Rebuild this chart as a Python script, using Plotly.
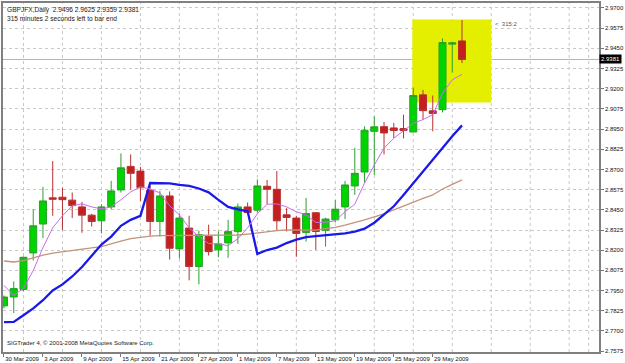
import plotly.graph_objects as go

# ---------------- data ----------------
dates = ["2009-03-30", "2009-03-31", "2009-04-01", "2009-04-02", "2009-04-03",
         "2009-04-06", "2009-04-07", "2009-04-08", "2009-04-09", "2009-04-10",
         "2009-04-13", "2009-04-14", "2009-04-15", "2009-04-16", "2009-04-17",
         "2009-04-20", "2009-04-21", "2009-04-22", "2009-04-23", "2009-04-24",
         "2009-04-27", "2009-04-28", "2009-04-29", "2009-04-30", "2009-05-01",
         "2009-05-04", "2009-05-05", "2009-05-06", "2009-05-07", "2009-05-08",
         "2009-05-11", "2009-05-12", "2009-05-13", "2009-05-14", "2009-05-15",
         "2009-05-18", "2009-05-19", "2009-05-20", "2009-05-21", "2009-05-22",
         "2009-05-25", "2009-05-26", "2009-05-27", "2009-05-28", "2009-05-29",
         "2009-06-01", "2009-06-02", "2009-06-03"]

open_ = [2.7855, 2.7910, 2.7957, 2.8183, 2.8362, 2.8524, 2.8528, 2.8510, 2.8468, 2.8417,
         2.8382, 2.8468, 2.8573, 2.8719, 2.8690, 2.8571, 2.8378, 2.8536, 2.8208, 2.8337,
         2.8099, 2.8286, 2.8202, 2.8245, 2.8315, 2.8468, 2.8448, 2.8596, 2.8577, 2.8419,
         2.8399, 2.8310, 2.8432, 2.8323, 2.8388, 2.8468, 2.8598, 2.8684, 2.8936, 2.8965,
         2.8957, 2.8953, 2.8932, 2.9162, 2.9063, 2.9070, 2.9476, 2.9496]
high = [2.7920, 2.8007, 2.8161, 2.8454, 2.8592, 2.8752, 2.8587, 2.8557, 2.8499, 2.8425,
        2.8485, 2.8629, 2.8799, 2.8793, 2.8715, 2.8598, 2.8567, 2.8564, 2.8425, 2.8413,
        2.8321, 2.8358, 2.8316, 2.8388, 2.8489, 2.8495, 2.8639, 2.8635, 2.8690, 2.8460,
        2.8413, 2.8524, 2.8433, 2.8401, 2.8510, 2.8629, 2.8834, 2.8967, 2.9029, 2.8994,
        2.8988, 2.9039, 2.9207, 2.9193, 2.9158, 2.9511, 2.9491, 2.9625]
low = [2.7840, 2.7811, 2.7947, 2.8136, 2.8276, 2.8413, 2.8325, 2.8399, 2.8308, 2.8347,
       2.8304, 2.8454, 2.8557, 2.8577, 2.8505, 2.8290, 2.8284, 2.8142, 2.8148, 2.8013,
       2.7988, 2.8167, 2.8156, 2.8153, 2.8239, 2.8424, 2.8433, 2.8485, 2.8321, 2.8316,
       2.8159, 2.8253, 2.8202, 2.8222, 2.8372, 2.8393, 2.8542, 2.8618, 2.8666, 2.8793,
       2.8895, 2.8892, 2.8930, 2.9009, 2.8936, 2.9053, 2.9300, 2.9359]
close = [2.7910, 2.7962, 2.8156, 2.8351, 2.8505, 2.8516, 2.8513, 2.8476, 2.8417, 2.8378,
         2.8468, 2.8567, 2.8710, 2.8676, 2.8587, 2.8378, 2.8536, 2.8212, 2.8399, 2.8099,
         2.8296, 2.8191, 2.8239, 2.8315, 2.8468, 2.8433, 2.8598, 2.8577, 2.8382, 2.8403,
         2.8304, 2.8427, 2.8316, 2.8393, 2.8454, 2.8604, 2.8676, 2.8943, 2.8964, 2.8926,
         2.8941, 2.8941, 2.9158, 2.9064, 2.9047, 2.9486, 2.9484, 2.9381]

ma_fast = [2.7982, 2.7920, 2.7964, 2.8074, 2.8216, 2.8339, 2.8413, 2.8475, 2.8487, 2.8468,
           2.8456, 2.8468, 2.8512, 2.8561, 2.8592, 2.8579, 2.8555, 2.8475, 2.8419, 2.8339,
           2.8284, 2.8241, 2.8239, 2.8228, 2.8271, 2.8339, 2.8425, 2.8484, 2.8487, 2.8468,
           2.8438, 2.8419, 2.8372, 2.8373, 2.8382, 2.8438, 2.8485, 2.8616, 2.8727, 2.8832,
           2.8893, 2.8941, 2.8986, 2.9009, 2.9039, 2.9172, 2.9255, 2.9289]
ma_slow = [2.8133, 2.8127, 2.8136, 2.8154, 2.8170, 2.8182, 2.8191, 2.8198, 2.8208, 2.8214,
           2.8222, 2.8241, 2.8256, 2.8271, 2.8279, 2.8287, 2.8290, 2.8290, 2.8290, 2.8290,
           2.8290, 2.8290, 2.8290, 2.8290, 2.8294, 2.8300, 2.8308, 2.8315, 2.8321, 2.8325,
           2.8324, 2.8321, 2.8324, 2.8333, 2.8341, 2.8355, 2.8370, 2.8388, 2.8407, 2.8425,
           2.8450, 2.8475, 2.8499, 2.8521, 2.8542, 2.8579, 2.8608, 2.8635]
ma_blue = [2.7754, 2.7756, 2.7797, 2.7840, 2.7890, 2.7951, 2.7988, 2.8037, 2.8096, 2.8167,
           2.8235, 2.8284, 2.8351, 2.8388, 2.8413, 2.8616, 2.8616, 2.8614, 2.8604, 2.8598,
           2.8582, 2.8558, 2.8512, 2.8468, 2.8453, 2.8441, 2.8177, 2.8201, 2.8216, 2.8244,
           2.8265, 2.8281, 2.8287, 2.8293, 2.8296, 2.8304, 2.8315, 2.8333, 2.8370, 2.8419,
           2.8472, 2.8542, 2.8616, 2.8690, 2.8764, 2.8832, 2.8906, 2.8973]

tick_dates = ["2009-03-30", "2009-04-03", "2009-04-09", "2009-04-15", "2009-04-21",
              "2009-04-27", "2009-05-01", "2009-05-07", "2009-05-13", "2009-05-19",
              "2009-05-25", "2009-05-29"]
tick_labels = ["30 Mar 2009", "3 Apr 2009", "9 Apr 2009", "15 Apr 2009", "21 Apr 2009",
               "27 Apr 2009", "1 May 2009", "7 May 2009", "13 May 2009", "19 May 2009",
               "25 May 2009", "29 May 2009"]
price_ticks = [2.7575, 2.7700, 2.7825, 2.7950, 2.8075, 2.8200, 2.8325, 2.8450, 2.8575,
               2.8700, 2.8825, 2.8950, 2.9075, 2.9200, 2.9325, 2.9450, 2.9575, 2.9700]
price_tick_text = ["%.4f" % v for v in price_ticks]

highlight_bars = (41.9, 50.0)
highlight_prices = (2.9115, 2.9628)
timer_text = "<  315:2"
header_line1 = "GBPJFX,Daily  2.9496 2.9625 2.9359 2.9381"
header_line2 = "315 minutes 2 seconds left to bar end"
footer_text = "SIGTrader 4, © 2001-2008 MetaQuotes Software Corp."

# ---------------- figure ----------------
x = list(range(len(dates)))
tick_x = [dates.index(d) for d in tick_dates]
grid_x = list(range(2, 59, 4)) + [60]

FONT = "Liberation Sans, Arial, sans-serif"
FS = 6

fig = go.Figure()

fig.add_trace(go.Candlestick(
    x=x, open=open_, high=high, low=low, close=close,
    increasing=dict(fillcolor="#00D400", line=dict(color="#2AA02A", width=1)),
    decreasing=dict(fillcolor="#C41F1F", line=dict(color="#B83030", width=1)),
    hoverinfo="skip", showlegend=False,
))
fig.add_trace(go.Scatter(x=x, y=ma_slow, mode="lines",
                         line=dict(color="rgb(196,146,120)", width=1.3),
                         hoverinfo="skip", showlegend=False))
fig.add_trace(go.Scatter(x=x, y=ma_blue, mode="lines",
                         line=dict(color="rgb(25,25,235)", width=2.3),
                         hoverinfo="skip", showlegend=False))
fig.add_trace(go.Scatter(x=x, y=ma_fast, mode="lines",
                         line=dict(color="rgb(200,110,235)", width=1),
                         hoverinfo="skip", showlegend=False))

shapes = []
for g in grid_x:
    shapes.append(dict(type="line", xref="x", yref="paper", x0=g, x1=g, y0=0, y1=1,
                       line=dict(color="#C8C8C8", width=1, dash="dot"), layer="below"))
shapes.append(dict(type="rect", xref="x", yref="y",
                   x0=highlight_bars[0], x1=highlight_bars[1],
                   y0=highlight_prices[0], y1=highlight_prices[1],
                   fillcolor="#E4EF00", line=dict(width=0), layer="between"))
shapes.append(dict(type="line", xref="paper", yref="y", x0=0, x1=1,
                   y0=close[-1], y1=close[-1],
                   line=dict(color="#B4B4B4", width=1), layer="below"))

annotations = [
    dict(xref="paper", yref="paper", x=0.004, y=0.997, xanchor="left", yanchor="top",
         text=header_line1 + "<br>" + header_line2, showarrow=False, align="left",
         font=dict(family=FONT, size=6.6, color="#222222")),
    dict(xref="paper", yref="paper", x=0.004, y=0.012, xanchor="left", yanchor="bottom",
         text=footer_text, showarrow=False, align="left",
         font=dict(family=FONT, size=FS, color="#222222")),
    dict(xref="x", yref="y", x=highlight_bars[1] + 0.15, y=high[-1] - 0.0024,
         xanchor="left", yanchor="middle", text=timer_text, showarrow=False,
         font=dict(family=FONT, size=FS, color="#555555")),
    dict(xref="paper", yref="y", x=1.0, y=close[-1], xanchor="left", yanchor="middle",
         text="%.4f" % close[-1], showarrow=False, bgcolor="#000000", borderpad=1,
         font=dict(family=FONT, size=FS, color="#FFFFFF")),
]

fig.update_layout(
    width=625, height=363,
    margin=dict(l=2, r=23, t=1, b=11),
    paper_bgcolor="white", plot_bgcolor="white",
    shapes=shapes, annotations=annotations,
    showlegend=False, hovermode=False,
    boxgap=0.28, boxgroupgap=0,
    font=dict(family=FONT, size=FS, color="#111111"),
    xaxis=dict(range=[-0.102, 61.06], rangeslider=dict(visible=False),
               tickmode="array", tickvals=tick_x, ticktext=tick_labels,
               tickangle=0,
               ticks="outside", ticklen=3, tickcolor="#777777",
               ticklabelposition="outside right",
               showgrid=False, zeroline=False,
               showline=True, linecolor="#808080", linewidth=1.5, mirror=True,
               tickfont=dict(family=FONT, size=FS, color="#111111")),
    yaxis=dict(range=[2.75695, 2.97308], side="right",
               tickmode="array", tickvals=price_ticks, ticktext=price_tick_text,
               ticks="outside", ticklen=3, tickcolor="#777777",
               showgrid=True, gridcolor="#C8C8C8", griddash="dot", gridwidth=1,
               zeroline=False,
               showline=True, linecolor="#808080", linewidth=1.5, mirror=True,
               tickfont=dict(family=FONT, size=FS, color="#111111")),
)

fig.write_html("out.html")
